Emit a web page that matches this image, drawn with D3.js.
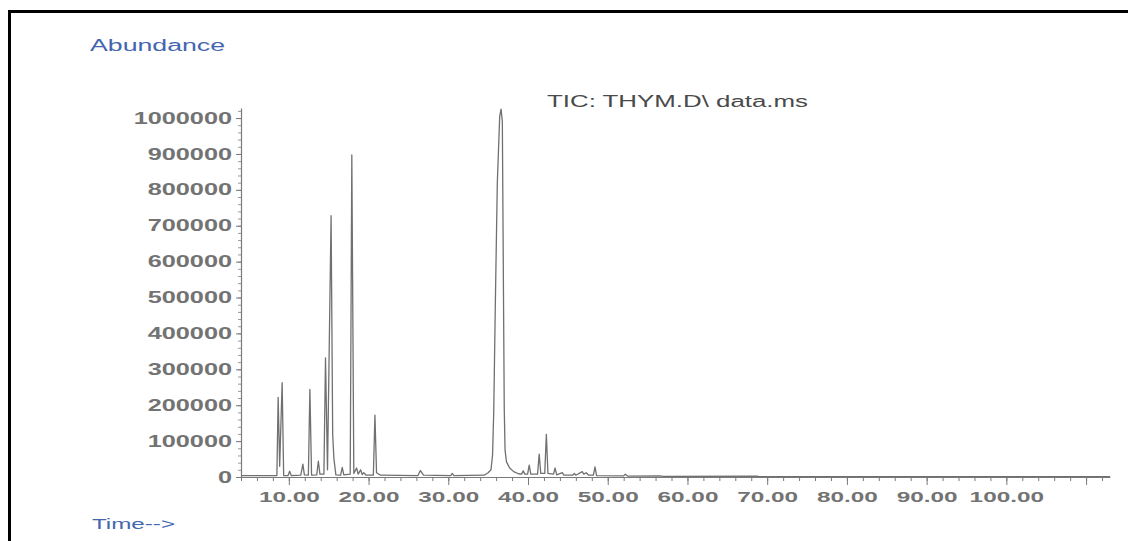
<!DOCTYPE html>
<html>
<head>
<meta charset="utf-8">
<script src="https://cdn.jsdelivr.net/npm/d3@7.9.0/dist/d3.min.js"></script>
<style>
  html, body { margin: 0; padding: 0; background: #fff; }
  svg { display: block; font-family: "Liberation Sans", Arial, sans-serif; }
</style>
</head>
<body>
<svg id="chart" width="1128" height="541"></svg>
<script>
// ---- data: retention time (min) / abundance ----
const traceTime = [
  4.0, 8.5, 8.66, 8.85, 9.16, 9.35, 9.9, 10.1, 10.3, 11.5, 11.76, 11.95,
  12.45, 12.64, 12.85, 13.5, 13.7, 13.9, 14.4, 14.6, 14.85, 15.3, 15.5, 15.65,
  15.9, 16.5, 16.7, 16.9, 17.7, 17.9, 18.15, 18.5, 18.7, 19.0, 19.2, 19.4,
  19.7, 20.6, 20.8, 21.0, 21.5, 26.2, 26.5, 26.9, 30.3, 30.5, 30.7, 34.5,
  35.0, 35.35, 35.55, 35.7, 35.9, 36.15, 36.45, 36.62, 36.78, 36.92, 37.02, 37.12,
  37.3, 37.7, 38.2, 38.8, 39.2, 39.4, 39.6, 39.95, 40.15, 40.35, 41.2, 41.4,
  41.6, 42.1, 42.3, 42.5, 43.2, 43.4, 43.6, 44.3, 44.5, 45.6, 45.8, 46.0,
  46.8, 47.0, 47.3, 47.6, 48.2, 48.4, 48.6, 52.0, 52.2, 52.5, 56.5, 57.0,
  68.7, 69.0, 113.0
];
const traceAbund = [
  4000, 4000, 222000, 30000, 263000, 4000, 4000, 16000, 4000, 5000, 36000, 6000,
  5000, 244000, 5000, 6000, 44000, 8000, 8000, 332000, 20000, 728000, 119000, 52000,
  6000, 5000, 27000, 6000, 8000, 897000, 10000, 25000, 8000, 20000, 7000, 12000,
  5000, 5000, 172000, 12000, 5000, 4000, 18000, 5000, 4000, 10000, 4000, 5000,
  12000, 20000, 60000, 180000, 480000, 820000, 1005000, 1025000, 990000, 520000, 190000, 75000,
  42000, 25000, 15000, 9000, 8000, 17000, 8000, 8000, 33000, 8000, 8000, 64000,
  10000, 10000, 119000, 10000, 8000, 25000, 6000, 12000, 5000, 5000, 10000, 5000,
  15000, 8000, 12000, 5000, 5000, 28000, 4000, 3000, 8000, 2500, 3000, 1500,
  2500, 1000, 1000
];

const yTickValues = [0, 100000, 200000, 300000, 400000, 500000,
  600000, 700000, 800000, 900000, 1000000];
const xTickValues = [10, 20, 30, 40, 50, 60, 70, 80, 90, 100];
const xMajorExtra = [110];          // tall tick without a label
const xMinorStep = 2;
const yMinorStep = 20000;

const yLabel = 'Abundance';
const xLabel = 'Time-->';
const traceTitle = 'TIC: THYM.D\\ data.ms';

// ---- layout ----
const SX = 1.58;   // the scan is stretched horizontally
const svg = d3.select('#chart');

svg.append('rect')
  .attr('x', 0).attr('y', 0).attr('width', 1128).attr('height', 541)
  .attr('fill', '#fff');

// page frame (only left/top edges visible)
svg.append('rect')
  .attr('x', 9.5).attr('y', 11.5)
  .attr('width', 1300).attr('height', 700)
  .attr('fill', 'none')
  .attr('stroke', '#000')
  .attr('stroke-width', 3);

const x = d3.scaleLinear().domain([4, 113]).range([241, 1110]);
const y = d3.scaleLinear().domain([0, 1028000]).range([477, 108]);

const axisColor = '#7a7a7a';
const tickText = '#737373';

// x minor ticks
svg.append('g')
  .attr('transform', `translate(0,${y(0)})`)
  .call(d3.axisBottom(x)
    .tickValues(d3.range(4, 113, xMinorStep))
    .tickSize(4)
    .tickSizeOuter(0)
    .tickFormat(''))
  .call(g => g.select('.domain').remove())
  .call(g => g.selectAll('line').attr('stroke', axisColor));

// x major ticks + labels
const gx = svg.append('g')
  .attr('transform', `translate(0,${y(0)})`)
  .call(d3.axisBottom(x)
    .tickValues(xTickValues.concat(xMajorExtra))
    .tickSize(8)
    .tickPadding(7)
    .tickSizeOuter(0)
    .tickFormat(d => (d > 105 ? '' : d3.format('.2f')(d))));

gx.select('.domain').attr('stroke', axisColor).attr('stroke-width', 1.2);
gx.selectAll('line').attr('stroke', axisColor);
gx.selectAll('text')
  .attr('fill', tickText)
  .attr('font-size', 14.5)
  .attr('font-weight', 'bold')
  .attr('transform', `scale(${SX + 0.1},1)`);

// y minor ticks
svg.append('g')
  .attr('transform', `translate(${x.range()[0]},0)`)
  .call(d3.axisLeft(y)
    .tickValues(d3.range(0, 1020001, yMinorStep))
    .tickSize(3)
    .tickSizeOuter(0)
    .tickFormat(''))
  .call(g => g.select('.domain').remove())
  .call(g => g.selectAll('line').attr('stroke', '#9a9a9a'));

// y major ticks + labels
const gy = svg.append('g')
  .attr('transform', `translate(${x.range()[0]},0)`)
  .call(d3.axisLeft(y)
    .tickValues(yTickValues)
    .tickSize(5)
    .tickSizeOuter(0)
    .tickFormat(d3.format('d')));

gy.select('.domain').attr('stroke', axisColor).attr('stroke-width', 1.2);
gy.selectAll('line').attr('stroke', axisColor);
gy.selectAll('text')
  .attr('fill', tickText)
  .attr('font-size', 16)
  .attr('font-weight', 'bold')
  .attr('x', -9 / SX)
  .attr('transform', `scale(${SX},1)`);

// ---- the trace ----
const trace = traceTime.map((t, i) => ({ t, v: traceAbund[i] }));

svg.append('path')
  .datum(trace)
  .attr('fill', 'none')
  .attr('stroke', '#707070')
  .attr('stroke-width', 1.3)
  .attr('stroke-linejoin', 'round')
  .attr('d', d3.line().x(d => x(d.t)).y(d => y(d.v)));

// ---- titles ----
function stretchedText(str, left, baseline, width, size, color) {
  svg.append('text')
    .attr('x', left)
    .attr('y', baseline)
    .attr('font-size', size)
    .attr('fill', color)
    .attr('textLength', width)
    .attr('lengthAdjust', 'spacingAndGlyphs')
    .text(str);
}

stretchedText(yLabel, 90, 51, 135, 16, '#4466b0');
stretchedText(xLabel, 92, 529, 83, 15, '#4466b0');
stretchedText(traceTitle, 547, 107, 261, 16, '#4a4a4a');
</script>
</body>
</html>
